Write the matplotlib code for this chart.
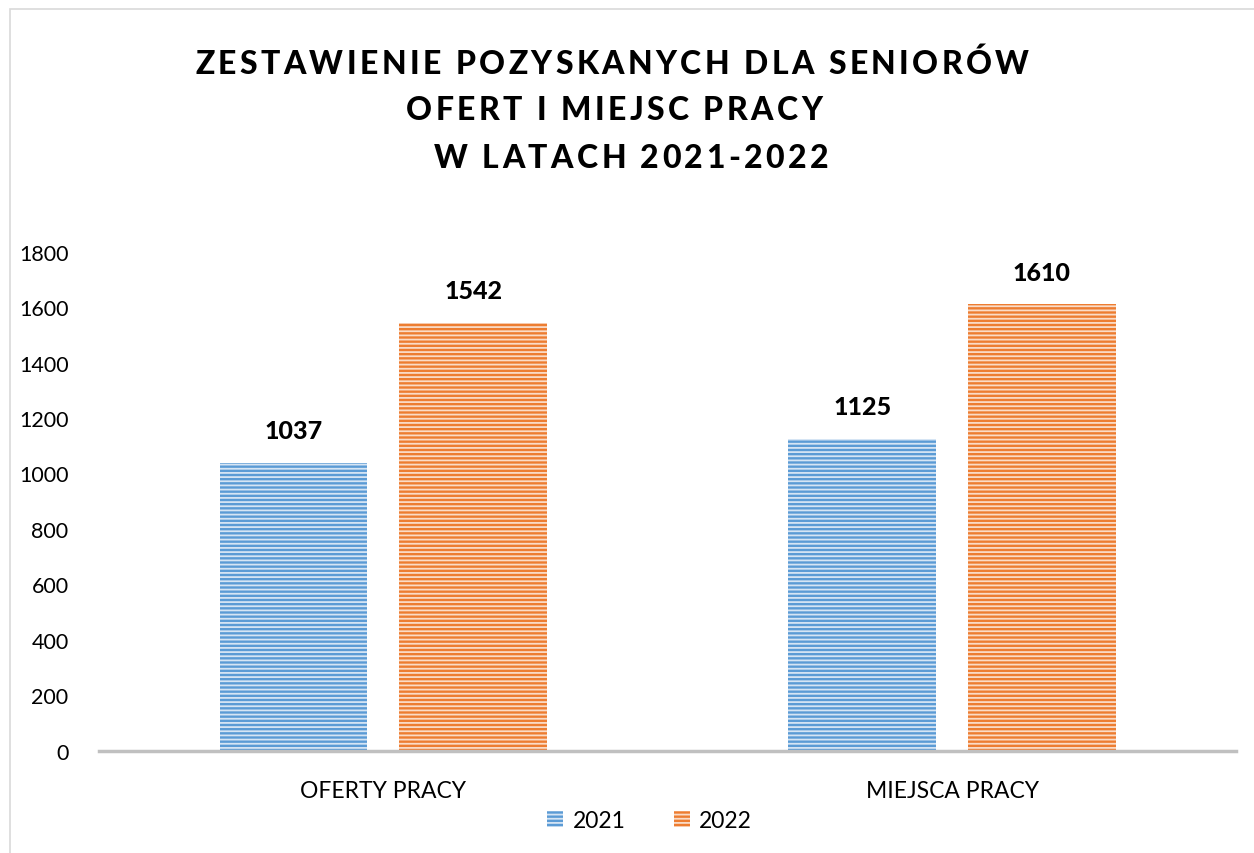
import numpy as np
import matplotlib.pyplot as plt
import matplotlib as mpl

kategorie = ['OFERTY PRACY', 'MIEJSCA PRACY']
lata = ['2021', '2022']
wartosci_2021 = [1037, 1125]
wartosci_2022 = [1542, 1610]
tytul = ['ZESTAWIENIE POZYSKANYCH DLA SENIORÓW', 'OFERT I MIEJSC PRACY', 'W LATACH 2021-2022']

kolory = ['#5B9BD5', '#ED7D31']
kolory_paski = ['#d6e5f4', '#fadcc8']
mpl.rcParams['hatch.linewidth'] = 1.3
plt.rcParams['font.family'] = 'Lato'

fig = plt.figure(figsize=(12.54, 8.54), dpi=100)
ax = fig.add_axes([0.079, 0.12, 0.907, 0.584])

x = np.arange(len(kategorie))
szer = 0.26
for i, (wart, kol) in enumerate(zip([wartosci_2021, wartosci_2022], kolory)):
    pos = x + (i - 0.5) * 0.316
    ax.bar(pos, wart, szer, color=kol, hatch='----', edgecolor=kolory_paski[i],
           linewidth=0, label=lata[i])
    for p, v in zip(pos, wart):
        ax.text(p, v + 75, str(v), ha='center', va='bottom', fontsize=18,
                fontweight='black')

ax.set_xlim(-0.5, 1.5)
ax.set_ylim(0, 1800)
ax.set_yticks(range(0, 1801, 200))
ax.set_xticks(x)
ax.set_xticklabels(kategorie)
ax.tick_params(axis='both', length=0, labelsize=15.5, colors='#000000')
ax.tick_params(axis='x', labelsize=16.5, pad=21)
ax.tick_params(axis='y', pad=22)
for s in ['top', 'right', 'left']:
    ax.spines[s].set_visible(False)
ax.spines['bottom'].set_color('#c0c0c0')
ax.spines['bottom'].set_linewidth(2.5)

# tytul z rozstrzelonymi literami
renderer = fig.canvas.get_renderer()
odstep = 3.4  # px
kw = dict(fontsize=23, fontweight='black')
for linia, yc, xc in zip(tytul, [64, 110, 158], [612, 614, 631]):
    szer_z = []
    for ch in linia:
        t = fig.text(0, 0, ch, **kw)
        szer_z.append(t.get_window_extent(renderer).width if ch != ' ' else None)
        t.remove()
    sp = fig.text(0, 0, 'a a', **kw)
    sa = fig.text(0, 0, 'aa', **kw)
    w_sp = sp.get_window_extent(renderer).width - sa.get_window_extent(renderer).width
    sp.remove(); sa.remove()
    szer_z = [w if w is not None else w_sp for w in szer_z]
    calosc = sum(szer_z) + odstep * (len(linia) - 1)
    xp = xc - calosc / 2
    for ch, w in zip(linia, szer_z):
        fig.text(xp / 1254, 1 - yc / 854, ch, ha='left', va='center', **kw)
        xp += w + odstep

ax.legend(loc='center', bbox_to_anchor=(0.484, -0.14), ncol=2, frameon=False,
          handlelength=0.7, handleheight=0.7, columnspacing=2.1,
          handletextpad=0.4, prop={'size': 16.5})

fig.patches.append(plt.Rectangle((0.008, -0.1), 1.2, 1.088, transform=fig.transFigure,
                                 fill=False, edgecolor='#d9d9d9', linewidth=1.2))

fig.savefig('out.png', dpi=100)
